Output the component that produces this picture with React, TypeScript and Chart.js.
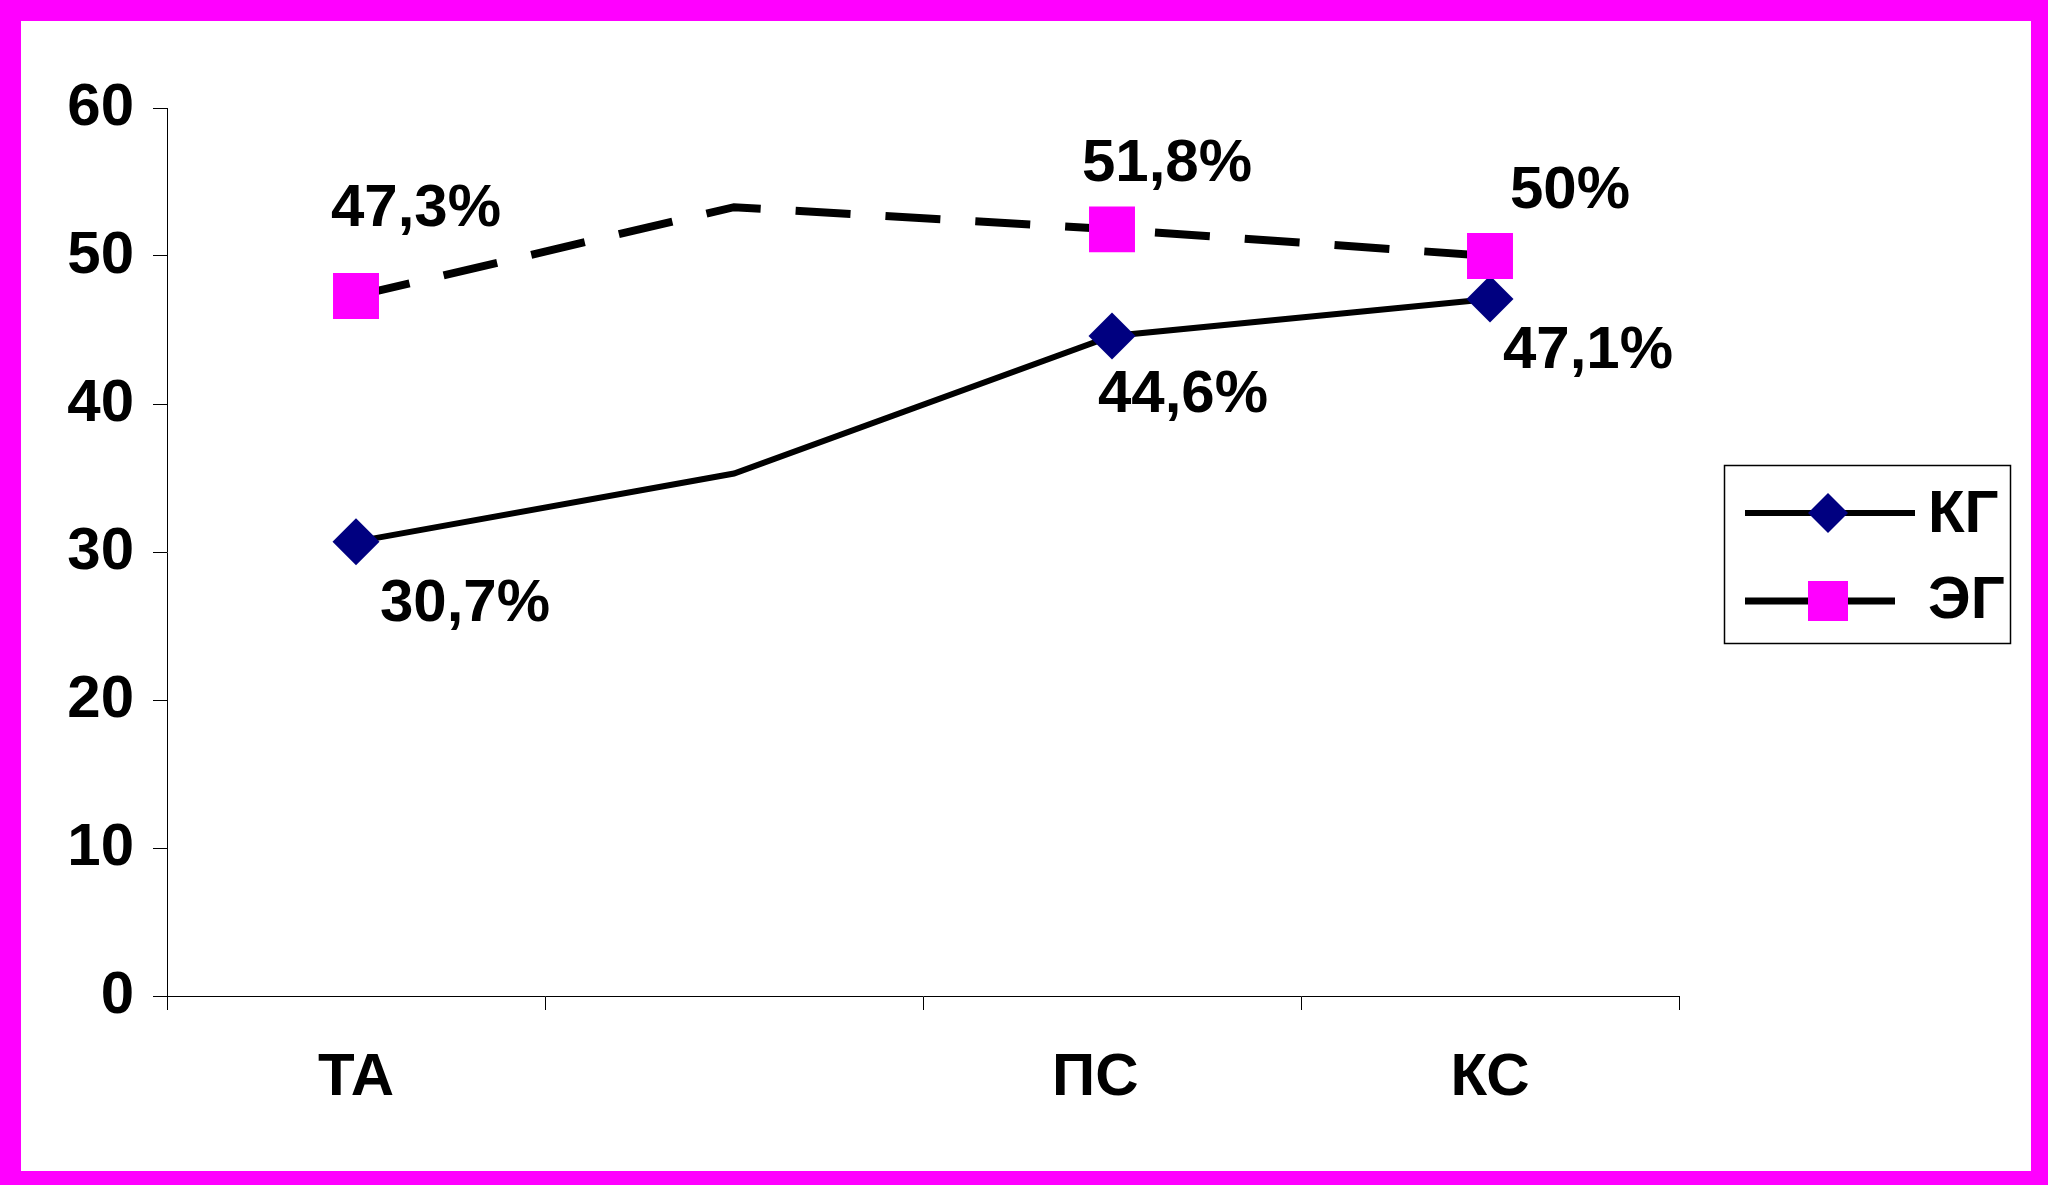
import React, { useEffect, useRef } from 'react';
import { Chart, registerables } from 'chart.js';

Chart.register(...registerables);

// ---- data ----
const categories = ['ТА', '', 'ПС  ', 'КС'];
const kgValues = [30.7, 35.3, 44.6, 47.1];
const egValues = [47.3, 53.3, 51.8, 50];
const markedPoints = [true, false, true, true];
const seriesNames = ['КГ', 'ЭГ'];
const yMin = 0;
const yMax = 60;
const yStep = 10;

// ---- style ----
const FONT = '"Liberation Sans", Arial, Helvetica, sans-serif';
const FONT_SIZE = 60;
const CAP = 43;
const MAGENTA = '#FF00FF';
const NAVY = '#000080';
// label offsets relative to the point (px)
const kgLabelOffsets: (number[] | null)[] = [[109, 58], null, [71, 55], [98, 48]];
const egLabelOffsets: (number[] | null)[] = [[60, -91], null, [55, -70], [80, -70]];

const formatPct = (v: number) => String(v).replace('.', ',') + '%';

const CANVAS_W = 2010;
const CANVAS_H = 1150;

const annotatePlugin = {
  id: 'annotate',
  afterDatasetsDraw(chart: any) {
    const ctx = chart.ctx as CanvasRenderingContext2D;
    ctx.save();
    ctx.font = `bold ${FONT_SIZE}px ${FONT}`;
    ctx.fillStyle = '#000';
    ctx.textAlign = 'center';
    ctx.textBaseline = 'alphabetic';
    [kgLabelOffsets, egLabelOffsets].forEach((offs, di) => {
      const meta = chart.getDatasetMeta(di);
      const values = chart.data.datasets[di].data as number[];
      meta.data.forEach((el: any, i: number) => {
        const o = offs[i];
        if (!markedPoints[i] || !o) return;
        ctx.fillText(formatPct(values[i]), el.x + o[0], el.y + o[1] + CAP / 2);
      });
    });

    // legend
    const bx = 1703, by = 444, bw = 286, bh = 178;
    ctx.fillStyle = '#fff';
    ctx.fillRect(bx, by, bw, bh);
    ctx.strokeStyle = '#000';
    ctx.lineWidth = 1.5;
    ctx.strokeRect(bx + 0.5, by + 0.5, bw, bh);

    // KG
    ctx.lineWidth = 6;
    ctx.setLineDash([]);
    ctx.beginPath();
    ctx.moveTo(1724, 492);
    ctx.lineTo(1894, 492);
    ctx.stroke();
    ctx.fillStyle = NAVY;
    ctx.beginPath();
    ctx.moveTo(1807 - 20, 492);
    ctx.lineTo(1807, 492 - 20);
    ctx.lineTo(1807 + 20, 492);
    ctx.lineTo(1807, 492 + 20);
    ctx.closePath();
    ctx.fill();

    // EG
    ctx.lineWidth = 7;
    ctx.setLineDash([70, 20]);
    ctx.beginPath();
    ctx.moveTo(1724, 580);
    ctx.lineTo(1874, 580);
    ctx.stroke();
    ctx.setLineDash([]);
    ctx.fillStyle = MAGENTA;
    ctx.fillRect(1787, 560, 40, 40);

    ctx.fillStyle = '#000';
    ctx.textAlign = 'left';
    ctx.fillText(seriesNames[0], 1907, 489 + CAP / 2);
    ctx.fillText(seriesNames[1], 1907, 575 + CAP / 2);
    ctx.restore();
  },
};

export default function App() {
  const ref = useRef<HTMLCanvasElement | null>(null);

  useEffect(() => {
    if (!ref.current) return;
    const tickFont = { family: FONT, size: FONT_SIZE, weight: 'bold' as const };
    const chart = new Chart(ref.current, {
      type: 'line',
      data: {
        labels: categories,
        datasets: [
          {
            label: seriesNames[0],
            data: kgValues,
            borderColor: '#000',
            borderWidth: 6,
            tension: 0,
            pointStyle: 'rectRot',
            pointRadius: markedPoints.map((m) => (m ? 23.5 : 0)),
            pointHoverRadius: markedPoints.map((m) => (m ? 23.5 : 0)),
            pointBackgroundColor: NAVY,
            pointBorderColor: NAVY,
            pointBorderWidth: 0,
            order: 1,
          },
          {
            label: seriesNames[1],
            data: egValues,
            borderColor: '#000',
            borderWidth: 8,
            borderDash: [55, 35],
            tension: 0,
            pointStyle: 'rect',
            pointRadius: markedPoints.map((m) => (m ? 32.5 : 0)),
            pointHoverRadius: markedPoints.map((m) => (m ? 32.5 : 0)),
            pointBackgroundColor: MAGENTA,
            pointBorderColor: MAGENTA,
            pointBorderWidth: 0,
            order: 0,
          },
        ],
      },
      options: {
        animation: false,
        responsive: false,
        devicePixelRatio: 1,
        layout: { padding: { left: 26, right: 352, top: 87, bottom: 0 } },
        plugins: {
          legend: { display: false },
          tooltip: { enabled: false },
        },
        scales: {
          x: {
            type: 'category',
            offset: true,
            grid: {
              offset: true,
              drawOnChartArea: false,
              drawTicks: true,
              tickLength: 14,
              color: '#000',
              lineWidth: 1,
            },
            border: { color: '#000', width: 1 },
            ticks: {
              font: tickFont,
              color: '#000',
              padding: 32,
              maxRotation: 0,
              autoSkip: false,
            },
            afterFit: (s: any) => {
              s.height = 175;
            },
          },
          y: {
            min: yMin,
            max: yMax,
            grid: {
              drawOnChartArea: false,
              drawTicks: true,
              tickLength: 14,
              color: '#000',
              lineWidth: 1,
            },
            border: { color: '#000', width: 1 },
            ticks: {
              stepSize: yStep,
              font: tickFont,
              color: '#000',
              padding: 19,
            },
            afterFit: (s: any) => {
              s.width = 120;
            },
          },
        },
      },
      plugins: [annotatePlugin],
    });
    return () => chart.destroy();
  }, []);

  return (
    <div
      style={{
        position: 'fixed',
        left: 0,
        top: 0,
        width: 2048,
        height: 1185,
        background: MAGENTA,
      }}
    >
      <canvas
        ref={ref}
        width={CANVAS_W}
        height={CANVAS_H}
        style={{
          position: 'absolute',
          left: 21,
          top: 21,
          width: CANVAS_W,
          height: CANVAS_H,
          background: '#fff',
        }}
      />
    </div>
  );
}
